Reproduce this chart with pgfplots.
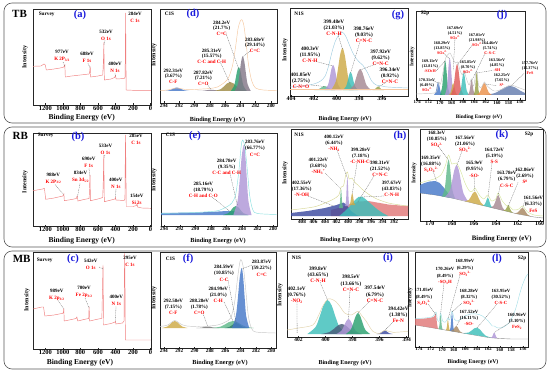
\documentclass[border=0pt]{standalone}
\usepackage{fontspec}
\setmainfont{Liberation Serif}
\usepackage{pgfplots}
\pgfplotsset{compat=1.18}

\definecolor{svy}{RGB}{240,128,128}
\definecolor{peach}{RGB}{245,200,160}
\definecolor{cBlue}{RGB}{70,120,200}
\definecolor{cOlive}{RGB}{160,140,70}
\definecolor{cGreen}{RGB}{40,160,110}
\definecolor{cDGreen}{RGB}{47,127,106}
\definecolor{cGray}{RGB}{130,118,135}
\definecolor{cPurple}{RGB}{175,150,215}
\definecolor{cGold}{RGB}{205,170,70}
\definecolor{cTeal}{RGB}{60,190,185}
\definecolor{cMauve}{RGB}{165,135,145}
\definecolor{cRed}{RGB}{225,90,90}
\definecolor{cSalmon}{RGB}{224,120,120}
\definecolor{cOrange}{RGB}{235,145,75}
\definecolor{cSlate}{RGB}{100,125,175}
\definecolor{cNavy}{RGB}{60,75,160}
\definecolor{cDSlate}{RGB}{74,90,120}
\definecolor{cLGreen}{RGB}{95,184,138}
\definecolor{cBrown}{RGB}{168,136,96}
\definecolor{cYOl}{RGB}{150,160,70}
\definecolor{lred}{RGB}{255,0,0}
\definecolor{pblue}{RGB}{25,25,220}
\definecolor{envBlue}{RGB}{160,205,225}
\definecolor{envCyan}{RGB}{140,225,225}
\definecolor{envGray}{RGB}{200,200,200}
\definecolor{envKhaki}{RGB}{215,215,150}
\definecolor{envYel}{RGB}{215,230,160}
\definecolor{envBeige}{RGB}{225,210,170}
\definecolor{envLCyan}{RGB}{168,224,232}

\pgfplotsset{
  xps/.style={scale only axis, anchor=south west, x dir=reverse, ymin=0, ytick=\empty,
    axis line style={line width=1pt, black!85}, tick align=inside, xtick pos=left,
    major tick length=3pt, every tick/.style={black!85, line width=0.7pt},
    /pgf/number format/assume math mode=true, /pgf/number format/1000 sep={},
    xticklabel style={inner sep=1.5pt}},
  tf/.style={xticklabel style={font=\bfseries\fontsize{#1}{#1}\selectfont}},
  comp/.style={draw=none, fill=#1, fill opacity=0.82, smooth, tension=0.55},
  poly/.style={draw=none, fill=#1, fill opacity=0.82},
  env/.style={draw=#1, line width=0.9pt, smooth, tension=0.5},
  svl/.style={draw=svy, line width=0.9pt},
}
\tikzset{
  lead/.style={dashed, dash pattern=on 2pt off 1.5pt, black!60, line width=0.6pt},
  annA/.style={align=center, inner sep=0pt, font=\bfseries\fontsize{10}{14}\selectfont},
  annD/.style={align=center, inner sep=0pt, font=\bfseries\fontsize{10}{11}\selectfont},
  annE/.style={align=center, inner sep=0pt, font=\bfseries\fontsize{10}{12.5}\selectfont},
  annG/.style={align=center, inner sep=0pt, font=\bfseries\fontsize{10.5}{12.5}\selectfont},
  annJ/.style={align=center, inner sep=0pt, font=\bfseries\fontsize{8.3}{10}\selectfont},
  annL/.style={align=center, inner sep=0pt, font=\bfseries\fontsize{9.5}{12.5}\selectfont},
  pl/.style={font=\bfseries\fontsize{21}{21}\selectfont, text=pblue},
  tg/.style={font=\bfseries\fontsize{10.5}{10.5}\selectfont},
  rl/.style={font=\bfseries\fontsize{22}{22}\selectfont},
}
\newcommand{\tri}[5]{\node[#1] at (#2) {#3\\(#4)\\\textcolor{lred}{#5}};}
\newcommand{\duo}[4]{\node[#1] at (#2) {#3\\\textcolor{lred}{#4}};}
\newcommand{\inty}[3]{\node[rotate=90, font=\bfseries\fontsize{#3}{#3}\selectfont] at (#1,#2) {Intensity};}
\newcommand{\bex}[3]{\node[font=\bfseries\fontsize{#3}{#3}\selectfont] at (#1,#2) {Binding Energy (eV)};}

\begin{document}
\begin{tikzpicture}
\path[use as bounding box] (0pt,0pt) rectangle (1100pt,-746pt);
\draw[rounded corners=16pt, line width=1.2pt, black!65] (8pt,-6pt) rectangle (1092pt,-246pt);
\draw[rounded corners=16pt, line width=1.2pt, black!65] (8pt,-254pt) rectangle (1092pt,-494pt);
\draw[rounded corners=16pt, line width=1.2pt, black!65] (8pt,-502pt) rectangle (1092pt,-738pt);

%================ (a) survey TB
\begin{axis}[xps, at={(66pt,-210pt)}, width=236pt, height=192pt, xmin=-5, xmax=1340, ymax=96, xtick={0,200,...,1200}, tf=13]
\addplot[svl] coordinates {(1340,38.7)(1250,39)(1215,41)(1200,40)(1188,35)(1100,36)(1000,37.5)(985,38.5)(977,40)(972,28)(900,29)(750,30.5)(700,31)(694,33)(688,38.7)(683,28)(600,29)(545,30)(537,45)(532,62.7)(527,25)(450,26)(410,27.5)(400,29.3)(392,26)(300,26.5)(290,28)(287,60)(284,92)(281,50)(278,15)(200,14.7)(-5,14.7)};
\coordinate (aO) at (axis cs:532,60);
\coordinate (aK) at (axis cs:977,39);
\coordinate (aF) at (axis cs:688,37);
\coordinate (aN) at (axis cs:400,29);
\coordinate (aC) at (axis cs:284,90);
\end{axis}

%================ (d) C1s TB
\begin{axis}[xps, at={(320pt,-206pt)}, width=234pt, height=188pt, xmin=279.2, xmax=294.5, ymax=94, xtick={280,282,...,294}, tf=10.5]
\addplot[comp=cBlue] coordinates {(293.96,12)(293.30,12.7)(292.97,13.7)(292.64,14.9)(292.31,15.5)(291.98,14.9)(291.65,13.7)(291.32,12.7)(290.66,12)};
\addplot[comp=cGray] coordinates {(289.62,12)(288.90,12.24)(288.54,12.6)(288.18,13.0)(287.82,13.2)(287.46,13.0)(287.10,12.6)(286.74,12.24)(286.02,12)};
\addplot[comp=cOlive] coordinates {(287.41,12)(286.57,13.8)(286.15,16.4)(285.73,19.6)(285.31,21)(284.89,19.6)(284.47,16.4)(284.05,13.8)(283.21,12)};
\addplot[comp=cGreen] coordinates {(285.25,12)(284.83,16.8)(284.62,23.8)(284.41,32.2)(284.2,36)(283.99,32.2)(283.78,23.8)(283.57,16.8)(283.15,12)};
\addplot[comp=cGray] coordinates {(284.73,12)(284.31,19)(284.10,29.2)(283.89,41.4)(283.68,47)(283.47,41.4)(283.26,29.2)(283.05,19)(282.63,12)};
\addplot[env=peach] coordinates {(294.5,12.5)(293.5,13)(292.3,15)(291.2,13.5)(290,13.5)(289,14)(288,14.5)(287,16)(286,21)(285.5,26)(285,38)(284.6,57)(284.3,74)(284.0,82)(283.75,83)(283.5,76)(283.2,57)(282.9,37)(282.5,22)(282,15)(281,13)(279.2,12.5)};
\coordinate (dCC) at (axis cs:285.31,19);
\coordinate (dCC2) at (axis cs:284.2,34);
\coordinate (dCC3) at (axis cs:283.68,46);
\coordinate (dCO) at (axis cs:287.82,13.2);
\end{axis}

%================ (g) N1s TB
\begin{axis}[xps, at={(580pt,-192pt)}, width=236pt, height=176pt, xmin=393.7, xmax=404.1, ymax=88, xtick={396,398,...,404}, tf=12]
\addplot[comp=cLGreen] coordinates {(401.95,6)(401.59,6.8)(401.41,7.96)(401.23,9.36)(401.05,10)(400.87,9.36)(400.69,7.96)(400.51,6.8)(400.15,6)};
\addplot[comp=cPurple] coordinates {(401.05,6)(400.75,11)(400.6,18.25)(400.45,27)(400.3,31)(400.15,27)(400.0,18.25)(399.85,11)(399.55,6)};
\addplot[comp=cGold] coordinates {(400.47,6)(400.07,14.4)(399.88,26.6)(399.68,41.3)(399.48,48)(399.28,41.3)(399.08,26.6)(398.89,14.4)(398.49,6)};
\addplot[comp=cTeal] coordinates {(399.42,6)(399.16,9.6)(399.02,14.8)(398.89,21.1)(398.76,24)(398.63,21.1)(398.50,14.8)(398.36,9.6)(398.10,6)};
\addplot[comp=cMauve] coordinates {(398.91,6)(398.51,10.2)(398.32,16.3)(398.12,23.6)(397.92,27)(397.72,23.6)(397.52,16.3)(397.33,10.2)(396.93,6)};
\addplot[comp=cYOl] coordinates {(396.85,6)(396.65,6.7)(396.54,7.7)(396.44,8.9)(396.34,9.5)(396.24,8.9)(396.14,7.7)(396.03,6.7)(395.83,6)};
\addplot[draw=peach, line width=0.9pt] coordinates {(404.1,6.5)(393.7,6.5)};
\addplot[env=envBlue] coordinates {(404.1,9)(403,10)(402,12)(401.4,15)(401,20)(400.7,30)(400.4,44)(400.1,55)(399.8,61)(399.5,64)(399.2,60)(398.9,52)(398.6,44)(398.3,38)(398,34)(397.7,31)(397.3,24)(396.9,15)(396.5,11)(396,10)(395.5,9)(393.7,8)};
\coordinate (g1) at (axis cs:401.05,9.5);
\coordinate (g2) at (axis cs:400.3,30);
\coordinate (g3) at (axis cs:399.48,47);
\coordinate (g4) at (axis cs:398.76,23);
\coordinate (g5) at (axis cs:397.92,26);
\coordinate (g6) at (axis cs:396.34,9);
\end{axis}

%================ (j) S2p TB
\begin{axis}[xps, at={(832pt,-200pt)}, width=218pt, height=178pt, xmin=155.1, xmax=174.2, ymax=89, xtick={156,158,...,174}, tf=9.5]
\addplot[comp=cSlate] coordinates {(162.26,5)(160.46,6.8)(159.56,9.4)(158.66,12.6)(157.76,14)(156.86,12.6)(155.96,9.4)(155.1,6.9)(155.1,5)};
\addplot[comp=cBlue] coordinates {(171.06,5)(170.76,7.6)(170.61,11.4)(170.46,15.9)(170.31,18)(170.16,15.9)(170.01,11.4)(169.86,7.6)(169.56,5)};
\addplot[comp=cGreen] coordinates {(170.01,5)(169.65,12)(169.47,22.2)(169.29,34.4)(169.11,40)(168.93,34.4)(168.75,22.2)(168.57,12)(168.21,5)};
\addplot[comp=cPurple] coordinates {(169.13,5)(168.79,12.4)(168.63,23.1)(168.46,36.1)(168.29,42)(168.12,36.1)(167.95,23.1)(167.79,12.4)(167.45,5)};
\addplot[comp=cGold] coordinates {(168.44,5)(168.14,7.4)(167.99,10.9)(167.84,15.1)(167.69,17)(167.54,15.1)(167.39,10.9)(167.24,7.4)(166.94,5)};
\addplot[comp=cRed] coordinates {(168.15,5)(167.69,11.2)(167.47,20.2)(167.24,31)(167.01,36)(166.78,31)(166.55,20.2)(166.33,11.2)(165.87,5)};
\addplot[comp=cTeal] coordinates {(166.75,5)(166.39,9.4)(166.21,15.8)(166.03,23.5)(165.85,27)(165.67,23.5)(165.49,15.8)(165.31,9.4)(164.95,5)};
\addplot[comp=cMauve] coordinates {(165.12,5)(164.86,8)(164.72,12.35)(164.59,17.6)(164.46,20)(164.33,17.6)(164.20,12.35)(164.06,8)(163.80,5)};
\addplot[comp=cYOl] coordinates {(164.10,5)(163.88,9.6)(163.78,16.3)(163.67,24.3)(163.56,28)(163.45,24.3)(163.34,16.3)(163.24,9.6)(163.02,5)};
\addplot[comp=cOrange] coordinates {(163.60,5)(163.06,7.4)(162.79,10.9)(162.52,15.1)(162.25,17)(161.98,15.1)(161.71,10.9)(161.44,7.4)(160.90,5)};
\addplot[env=envGray] coordinates {(174.2,6)(171,7)(170.5,10)(170.2,18)(169.9,16)(169.4,30)(169.0,42)(168.5,46)(168.2,47)(167.8,42)(167.3,37)(166.9,38)(166.5,30)(166.1,25)(165.8,29)(165.4,22)(164.9,15)(164.5,21)(164.1,14)(163.6,29)(163.2,14)(162.7,13)(162.2,18)(161.7,14)(160.5,9)(159,11)(157.7,15)(156.5,13)(155.1,10)};
\coordinate (j1) at (axis cs:170.31,17);
\coordinate (j2) at (axis cs:169.11,39);
\coordinate (j3) at (axis cs:168.29,41);
\coordinate (j4) at (axis cs:167.69,30);
\coordinate (j5) at (axis cs:167.01,35);
\coordinate (j6) at (axis cs:165.85,26);
\coordinate (j7) at (axis cs:164.46,19);
\coordinate (j8) at (axis cs:163.56,27);
\coordinate (j9) at (axis cs:162.25,16);
\coordinate (j10) at (axis cs:157.76,13);
\end{axis}

%================ (b) survey RB
\begin{axis}[xps, at={(66pt,-452pt)}, width=236pt, height=186pt, xmin=-5, xmax=1340, ymax=93, xtick={0,200,...,1200}, tf=13]
\addplot[svl] coordinates {(1340,35.3)(1230,37)(1210,37.7)(1195,26.7)(1100,28)(1000,30)(992,31)(988,32)(983,25.3)(900,26.5)(845,27.5)(838,30)(834,30)(828,25)(760,26.5)(700,27.5)(695,40)(690,51)(685,25.3)(600,27)(545,28.5)(539,45)(533,71)(527,24.3)(450,26)(405,27)(400,28.5)(395,26)(300,25.5)(292,27)(289,60)(285,91)(281,55)(277,19.5)(200,19.5)(160,20.5)(154,22.7)(148,19)(100,18)(-5,17.7)};
\coordinate (bO) at (axis cs:533,68);
\coordinate (bF) at (axis cs:690,49);
\coordinate (bK) at (axis cs:988,31);
\coordinate (bS) at (axis cs:834,29);
\coordinate (bN) at (axis cs:400,28);
\end{axis}

%================ (e) C1s RB
\begin{axis}[xps, at={(322pt,-452pt)}, width=232pt, height=186pt, xmin=279.5, xmax=294.4, ymax=93, xtick={280,282,...,294}, tf=10.5]
\addplot[poly=cBlue] coordinates {(294.4,11)(294.4,13)(290,13.5)(288,14)(287,14.5)(286,15)(285.2,15)(284.4,14)(283.8,12)(283.2,11)};
\addplot[comp=cGreen] coordinates {(286.43,11)(285.77,12.8)(285.44,15.4)(285.11,18.6)(284.78,20)(284.45,18.6)(284.12,15.4)(283.79,12.8)(283.13,11)};
\addplot[comp=cPurple] coordinates {(285.11,11)(284.57,25)(284.30,45.3)(284.03,69.8)(283.76,81)(283.56,69.8)(283.36,45.3)(283.17,25)(282.77,11)};
\addplot[env=envCyan] coordinates {(294.4,12.5)(292,13)(290,13.5)(288,14.5)(287,15.5)(286,19)(285.3,23)(284.8,32)(284.4,55)(284.1,80)(283.9,86)(283.6,78)(283.3,55)(283.0,30)(282.6,16)(282,12.5)(279.5,11.5)};
\coordinate (e1) at (axis cs:283.76,80);
\coordinate (e2) at (axis cs:284.6,21);
\coordinate (e3) at (axis cs:285.6,15);
\end{axis}

%================ (h) N1s RB
\begin{axis}[xps, at={(582pt,-438pt)}, width=234pt, height=180pt, xmin=389.6, xmax=409.9, ymax=90, xtick={392,394,...,408}, tf=10.5]
\addplot[poly=cSalmon] coordinates {(403,3)(403,9)(401,12)(399.5,15)(398,17.5)(396.5,18)(395,16.5)(393,14.5)(391,13.5)(389.6,13)(389.6,3)};
\addplot[poly=cNavy] coordinates {(409.9,3)(409.9,6)(407,8)(404,11)(402,14)(400.8,16.5)(400.2,14)(399.5,8)(398.5,4)(398,3)};
\addplot[poly=cTeal] coordinates {(401.5,3)(400.5,8)(399.5,14)(398.8,19)(398.2,22)(397.6,22.5)(397,20)(396,15)(395,10)(394,6)(393,3)};
\addplot[comp=cLGreen] coordinates {(401.58,11)(401.44,14.8)(401.36,20.3)(401.29,27)(401.22,30)(401.15,27)(401.08,20.3)(401.00,14.8)(400.86,11)};
\addplot[comp=cPurple] coordinates {(400.51,13)(400.35,18.8)(400.28,27.2)(400.20,37.4)(400.12,42)(400.04,37.4)(399.96,27.2)(399.89,18.8)(399.73,13)};
\addplot[comp=cGold] coordinates {(399.82,14)(399.60,16.4)(399.50,19.9)(399.39,24.1)(399.28,26)(399.17,24.1)(399.06,19.9)(398.96,16.4)(398.74,14)};
\addplot[env=envKhaki] coordinates {(409.9,9)(406,12)(404,16)(402.5,20)(401.6,24)(401.2,32)(400.8,33)(400.4,44)(400.1,47)(399.8,40)(399.3,41)(398.9,37)(398.3,34)(397.6,30)(396.5,25)(395,20)(393,16)(391,14)(389.6,13)};
\coordinate (h1) at (axis cs:400.12,41);
\coordinate (h2) at (axis cs:399.28,25);
\coordinate (h3) at (axis cs:401.22,30);
\coordinate (h4) at (axis cs:398.3,17);
\coordinate (h5) at (axis cs:402.5,13);
\coordinate (h6) at (axis cs:397.6,22);
\end{axis}

%================ (k) S2p RB
\begin{axis}[xps, at={(840pt,-442pt)}, width=246pt, height=184pt, xmin=159.7, xmax=170.9, ymax=92, xtick={160,162,...,170}, tf=12]
\addplot[draw=black!45, line width=0.8pt] coordinates {(170.9,28)(169.5,26)(168,23)(166.5,19)(165,15)(163.5,11)(162,7)(160.5,4)(159.7,3)};
\addplot[poly=cBlue] coordinates {(170.9,28)(170.9,36)(170.5,38)(170.0,39.5)(169.5,40)(169.1,38)(168.7,33)(168.3,27)(168.0,23)(169.5,26)};
\addplot[comp=cLGreen] coordinates {(168.90,24.6)(168.66,31.8)(168.54,42.6)(168.42,55.7)(168.30,61.6)(168.18,55.3)(168.06,41.7)(167.94,30.5)(167.70,22.3)};
\addplot[comp=cPurple] coordinates {(168.61,24.2)(168.19,30.2)(167.98,39.7)(167.77,51.1)(167.56,56.1)(167.35,50.2)(167.14,37.8)(166.93,27.4)(166.51,19.5)};
\addplot[comp=cGold] coordinates {(166.80,19.8)(166.44,21.2)(166.26,24.3)(166.08,28)(165.90,29.4)(165.72,27)(165.54,22.3)(165.36,18.4)(165.00,15)};
\addplot[comp=cTeal] coordinates {(165.17,15.5)(164.99,16.8)(164.90,19.1)(164.81,22.1)(164.72,23.3)(164.63,21.6)(164.54,18.2)(164.45,15.3)(164.27,13)};
\addplot[comp=cMauve] coordinates {(164.44,13.5)(164.18,15.6)(164.04,19.3)(163.91,23.9)(163.78,25.7)(163.65,23.2)(163.52,18)(163.38,13.4)(163.12,10)};
\addplot[comp=cYOl] coordinates {(163.31,10.5)(163.13,11.2)(163.04,12.7)(162.95,14.5)(162.86,15.3)(162.77,14.1)(162.68,11.7)(162.59,9.8)(162.41,8.1)};
\addplot[comp=cBrown] coordinates {(162.31,7.8)(162.01,8.4)(161.86,10.1)(161.71,12.3)(161.56,13.1)(161.41,11.7)(161.26,8.9)(161.11,6.6)(160.81,4.6)};
\addplot[env=envYel] coordinates {(170.9,38)(170.3,40)(169.6,42)(169.0,46)(168.6,55)(168.3,66)(168.0,57)(167.6,58)(167.2,50)(166.8,38)(166.4,30)(166.1,30)(165.9,33)(165.5,26)(165.1,22)(164.72,26)(164.4,20)(164.0,22)(163.78,28)(163.4,20)(163.0,15)(162.86,16)(162.4,11)(161.9,12)(161.56,15)(161.1,9)(160.5,6)(159.7,5)};
\coordinate (k1) at (axis cs:168.3,61);
\coordinate (k2) at (axis cs:167.56,55);
\coordinate (k3) at (axis cs:169.4,40);
\coordinate (k4) at (axis cs:165.9,29);
\coordinate (k5) at (axis cs:164.72,23);
\coordinate (k6) at (axis cs:163.78,25);
\coordinate (k7) at (axis cs:162.86,15);
\coordinate (k8) at (axis cs:161.56,13);
\end{axis}

%================ (c) survey MB
\begin{axis}[xps, at={(66pt,-698pt)}, width=236pt, height=194pt, xmin=-5, xmax=1340, ymax=97, xtick={0,200,...,1200}, tf=13]
\addplot[svl] coordinates {(1340,40)(1240,42)(1220,42)(1205,33)(1100,34)(1000,35.7)(993,37)(989,40.7)(984,28)(900,29.5)(850,30.5)(840,32)(830,28)(760,29.5)(705,30.5)(704,35)(700,42.3)(695,28)(620,29.5)(555,30.7)(548,60)(542,84)(536,24)(450,25.5)(405,27)(400,27.7)(395,25)(320,26)(302,28)(299,70)(295,95.7)(291,60)(287,9)(200,9)(-5,9)};
\coordinate (cO) at (axis cs:542,80);
\coordinate (cK) at (axis cs:989,40);
\coordinate (cF) at (axis cs:700,41);
\coordinate (cN) at (axis cs:400,27.7);
\coordinate (cC) at (axis cs:295,94);
\end{axis}

%================ (f) C1s MB
\begin{axis}[xps, at={(320pt,-696pt)}, width=232pt, height=192pt, xmin=279.4, xmax=294.5, ymax=96, xtick={280,282,...,294}, tf=10.5]
\addplot[comp=cGold] coordinates {(294.23,20)(293.57,21.4)(293.24,23.4)(292.91,25.9)(292.58,27)(292.25,25.9)(291.92,23.4)(291.59,21.4)(290.93,20)};
\addplot[comp=black!55] coordinates {(289.78,20)(289.18,20.3)(288.88,20.7)(288.58,21.3)(288.28,21.5)(287.98,21.3)(287.68,20.7)(287.38,20.3)(286.78,20)};
\addplot[comp=cLGreen] coordinates {(287.69,20)(286.61,21.4)(286.07,23.4)(285.53,25.9)(284.99,27)(284.45,25.9)(283.91,23.4)(283.37,21.4)(282.29,20)};
\addplot[comp=cDGreen] coordinates {(286.09,20)(285.49,21)(285.19,22.45)(284.89,24.2)(284.59,25)(284.29,24.2)(283.99,22.45)(283.69,21)(283.09,20)};
\addplot[comp=cBlue] coordinates {(285.13,20)(284.63,32)(284.37,49.4)(284.12,70.4)(283.87,80)(283.67,70.4)(283.47,49.4)(283.28,32)(282.88,20)};
\addplot[env=envGray] coordinates {(294.5,21.5)(293.5,23)(292.6,27.5)(291.8,24)(291,22)(289,21.5)(287,23)(286,26)(285.3,30)(284.8,45)(284.4,70)(284.1,86)(283.9,88)(283.6,78)(283.3,55)(283.0,32)(282.6,20)(282,16)(279.4,15)};
\coordinate (f1) at (axis cs:283.87,79);
\coordinate (f2) at (axis cs:284.59,25);
\coordinate (f3) at (axis cs:284.99,27);
\coordinate (f4) at (axis cs:292.58,27);
\coordinate (f5) at (axis cs:288.28,21.5);
\end{axis}

%================ (i) N1s MB
\begin{axis}[xps, at={(574pt,-674pt)}, width=242pt, height=170pt, xmin=393.9, xmax=402.85, ymax=85, xtick={394,396,...,402}, tf=11]
\addplot[comp=cTeal] coordinates {(401.35,3)(400.75,9.8)(400.45,19.7)(400.15,31.6)(399.85,37)(399.55,31.6)(399.25,19.7)(398.95,9.8)(398.35,3)};
\addplot[comp=cDSlate] coordinates {(400.3,3)(399.7,5)(399.4,7.9)(399.1,11.4)(398.8,13)(398.5,11.4)(398.2,7.9)(397.9,5)(397.3,3)};
\addplot[comp=cPurple] coordinates {(399.2,3)(398.84,6)(398.66,10.35)(398.48,15.6)(398.3,18)(398.12,15.6)(397.94,10.35)(397.76,6)(397.4,3)};
\addplot[comp=cGreen] coordinates {(398.5,3)(398.14,7.2)(397.96,13.3)(397.78,20.6)(397.6,24)(397.42,20.6)(397.24,13.3)(397.06,7.2)(396.7,3)};
\addplot[comp=cNavy] coordinates {(396.23,3)(395.99,3.7)(395.87,4.7)(395.75,5.9)(395.63,6.5)(395.51,5.9)(395.39,4.7)(395.27,3.7)(395.03,3)};
\addplot[env=envBeige] coordinates {(402.85,7)(402,9)(400.94,12)(400.5,22)(400.2,31)(399.83,38)(399.5,37.5)(399.21,35)(398.9,30)(398.59,24)(398.1,22)(397.6,25.7)(397.3,21)(396.99,15.7)(396.5,5.7)(396.0,3.5)(395.63,6.7)(395.0,4.7)(393.9,5.7)};
\coordinate (i1) at (axis cs:399.85,37);
\coordinate (i2) at (axis cs:398.3,18);
\coordinate (i3) at (axis cs:397.6,24);
\coordinate (i4) at (axis cs:402.1,4);
\coordinate (i5) at (axis cs:395.63,6.5);
\end{axis}

%================ (l) S2p MB
\begin{axis}[xps, at={(830pt,-694pt)}, width=226pt, height=190pt, xmin=155.1, xmax=174.7, ymax=95, xtick={156,158,...,174}, tf=9.5]
\addplot[draw=black!45, line width=0.8pt] coordinates {(174.7,22)(172,19.5)(170,17.5)(168,15.5)(166,13.5)(164,11.5)(162,9.5)(160,8.5)(158,8)(155.1,8)};
\addplot[poly=cSalmon] coordinates {(174.7,22)(174.7,28)(173.5,28.3)(172.2,29)(171.5,30)(171.2,32)(171.05,34)(170.9,24)(170.75,19)(170.75,18.2)(172,19.5)};
\addplot[comp=cLGreen] coordinates {(170.62,18.1)(170.48,21)(170.40,25.3)(170.33,30.5)(170.26,32.8)(170.19,30.3)(170.12,24.9)(170.04,20.5)(169.90,17.4)};
\addplot[comp=cGold] coordinates {(169.35,16.9)(169.21,18.9)(169.13,22)(169.06,25.8)(168.99,27.5)(168.92,25.6)(168.85,21.8)(168.77,18.5)(168.63,16.1)};
\addplot[comp=cBlue] coordinates {(168.70,16.2)(168.53,19.8)(168.45,25.3)(168.36,31.9)(168.28,34.8)(168.20,31.7)(168.11,24.9)(168.03,19.3)(167.86,15.4)};
\addplot[comp=cBrown] coordinates {(168.57,16.1)(168.15,16.9)(167.94,18.3)(167.73,20.2)(167.52,21)(167.31,19.8)(167.10,17.5)(166.89,15.6)(166.47,14)};
\addplot[comp=cTeal] coordinates {(166.35,13.9)(165.39,14.5)(164.91,16.3)(164.43,18.6)(163.95,19.45)(163.47,17.7)(162.99,14.4)(162.51,11.6)(161.55,9.3)};
\addplot[comp=cPurple] coordinates {(161.56,9.2)(161.32,10.2)(161.20,11.8)(161.08,13.6)(160.96,14.5)(160.84,13.6)(160.72,11.6)(160.60,10)(160.36,8.8)};
\addplot[env=envLCyan] coordinates {(174.7,28.5)(173,29)(171.6,30.5)(171.05,35)(170.8,27)(170.5,26)(170.26,34)(169.9,26)(169.4,25)(168.99,29)(168.7,27)(168.28,36)(167.9,28)(167.52,26)(167,27)(166,31)(165,33)(164,33)(163,31)(162,26)(161.3,21)(160.96,21)(160.3,19)(159.3,20)(158.3,25)(157.5,34)(157,43)(156.5,54)(156,63)(155.5,70)(155.1,73)};
\coordinate (l1) at (axis cs:170.26,33);
\coordinate (l2) at (axis cs:168.99,27.5);
\coordinate (l3) at (axis cs:171.05,32);
\coordinate (l4) at (axis cs:168.28,35);
\coordinate (l5) at (axis cs:167.52,21);
\coordinate (l6) at (axis cs:163.95,19);
\coordinate (l7) at (axis cs:160.96,14.5);
\end{axis}

%================ annotations (pixel coordinates)
\begin{scope}[x=2pt,y=-2pt]
\node[rl] at (19.5,13.8) {TB};
\node[rl] at (20.3,136) {RB};
\node[rl] at (21.7,258.7) {MB};
\node[pl] at (80,15) {(a)};
\node[pl] at (78,137) {(b)};
\node[pl] at (73,259) {(c)};
\node[pl] at (193,14) {(d)};
\node[pl] at (195,136) {(e)};
\node[pl] at (188,259) {(f)};
\node[pl] at (398,15) {(g)};
\node[pl] at (400,136) {(h)};
\node[pl] at (388,258) {(i)};
\node[pl] at (502,15) {(j)};
\node[pl] at (502,135) {(k)};
\node[pl] at (497,259) {(l)};
\node[tg, anchor=west] at (37,14.3) {Survey};
\node[tg, anchor=west] at (36,135) {Survey};
\node[tg, anchor=west] at (35,260) {Survey};
\node[tg, anchor=west] at (163,14) {C1S};
\node[tg, anchor=west] at (164,135) {C1S};
\node[tg, anchor=west] at (164,258.3) {C1S};
\node[tg, anchor=west] at (292.7,14) {N1S};
\node[tg, anchor=west] at (292.7,135) {N1S};
\node[tg, anchor=west] at (290,257.7) {N1S};
\node[tg, anchor=west] at (419,13.3) {S2p};
\node[tg] at (529,134) {S2p};
\node[tg] at (522,258) {S2p};
% Intensity labels
\inty{25}{57}{12} \inty{25}{181.7}{12} \inty{27}{300}{12}
\inty{154}{55}{12} \inty{154}{180}{12} \inty{154}{298}{12}
\inty{285}{50}{12} \inty{285}{173}{12} \inty{280}{295}{12}
\inty{412}{57}{10.5} \inty{414}{173}{11} \inty{410}{298}{10.5}
% x labels
\bex{81.7}{118}{15} \bex{81.7}{240.7}{15} \bex{80}{362.3}{15}
\bex{217.5}{120}{12.5} \bex{218}{240.7}{12.5} \bex{220}{363.3}{12.5}
\bex{345}{119}{12} \bex{346.7}{240}{12} \bex{345}{363.3}{12}
\bex{479}{117.3}{10.5} \bex{501.7}{239.3}{13.5} \bex{473}{361.7}{11.5}

% (a)
\duo{annA}{135,17.3}{284eV}{C 1s}
\duo{annA}{106,35.5}{532eV}{O 1s}
\duo{annA}{62,55.5}{977eV}{K 2P\textsubscript{3/2}}
\duo{annA}{87,57}{688eV}{F 1s}
\duo{annA}{115,67}{400eV}{N 1s}
\draw[lead] (105,40.5)--(aO); \draw[lead] (63,62)--(aK); \draw[lead] (88,63.5)--(aF); \draw[lead] (115,73.5)--(aN);
% (b)
\duo{annA}{136,139.7}{285eV}{C 1s}
\duo{annA}{105.5,149.7}{533eV}{O 1s}
\duo{annA}{88.8,162.7}{690eV}{F 1s}
\duo{annA}{53.3,178.3}{988eV}{K 2P\textsubscript{3/2}}
\duo{annA}{80.5,177}{834eV}{Sn 3d\textsubscript{5/2}}
\duo{annA}{115.8,183.3}{400eV}{N 1s}
\duo{annA}{136.7,199}{154eV}{Si 2s}
\draw[lead] (105,155)--(bO); \draw[lead] (89,168.5)--(bF); \draw[lead] (55,184.5)--(bK); \draw[lead] (80,183.5)--(bS); \draw[lead] (116,189)--(bN);
% (c)
\duo{annA}{130,261.3}{295eV}{C 1s}
\duo{annA}{90.7,264.7}{542eV}{O 1s}
\duo{annA}{56.7,294.7}{989eV}{K 2p\textsubscript{3/2}}
\duo{annA}{84,292}{700eV}{Fe 2p\textsubscript{3/2}}
\duo{annA}{116.3,300.3}{400eV}{N 1s}
\draw[lead] (99,267)--(cO); \draw[lead] (58,300.5)--(cK); \draw[lead] (85,298)--(cF); \draw[lead] (116,306.5)--(cN);
% (d)
\tri{annD}{173.3,76}{292.31eV}{3.67\%}{C-F}
\tri{annD}{203.3,78.3}{287.82eV}{7.21\%}{C=O}
\tri{annD}{211.7,56}{285.31eV}{15.57\%}{C-C and C-H}
\tri{annD}{221.7,28.3}{284.2eV}{21.7\%}{C=C}
\tri{annD}{255,45}{283.68eV}{29.14\%}{C=C}
\draw[lead] (220,61.5)--(dCC); \draw[lead] (226,33.5)--(dCC2); \draw[lead] (250,51)--(dCC3); \draw[lead] (207,84)--(dCO);
% (e)
\tri{annE}{255,148.3}{283.76eV}{66.77\%}{C=C}
\tri{annE}{226.7,166.7}{284.78eV}{9.35\%}{C-C and C-H}
\tri{annE}{203.3,190}{285.16eV}{18.79\%}{C-H and C-O}
\draw[lead] (247,142)--(e1); \draw[lead] (230,173.5)--(e2); \draw[lead] (212,197)--(e3);
% (f)
\tri{annE}{261.7,268.3}{283.87eV}{59.22\%}{C=C}
\tri{annE}{224,273.3}{284.59eV}{10.85\%}{C-C}
\tri{annE}{218.3,295}{284.99eV}{21.0\%}{C-H}
\tri{annE}{173.3,306.7}{292.58eV}{7.15\%}{C-F}
\tri{annE}{199.3,306.7}{288.28eV}{1.78\%}{C=O}
\draw[lead] (252,265)--(f1); \draw[lead] (228,280)--(f2); \draw[lead] (224,302)--(f3); \draw[lead] (203,313.5)--(f5);
% (g)
\tri{annG}{334,27.7}{399.48eV}{21.03\%}{C-N-H}
\tri{annG}{364,35}{398.76eV}{9.03\%}{C=N-C}
\tri{annG}{310,55}{400.3eV}{11.95\%}{C-N-H}
\tri{annG}{380.7,57.7}{397.92eV}{9.62\%}{C=N-C}
\tri{annG}{301,81}{401.05eV}{2.75\%}{C-N=O}
\tri{annG}{390,76}{396.34eV}{0.92\%}{C=N-C}
\draw[lead] (338,34.5)--(g3); \draw[lead] (360,41.5)--(g4); \draw[lead] (316,61.5)--(g2); \draw[lead] (376,64)--(g5); \draw[lead] (311,85)--(g1); \draw[lead] (386,82.5)--(g6);
% (h)
\tri{annE}{334,143.3}{400.12eV}{6.44\%}{-NH\textsubscript{2}}
\tri{annE}{360.7,156}{399.28eV}{7.18\%}{-C-NH-C-}
\tri{annE}{318.3,166}{401.22eV}{3.68\%}{-NH\textsubscript{3}\textsuperscript{+}}
\tri{annE}{380,169}{398.31eV}{21.52\%}{C=N-C}
\tri{annE}{301.7,189}{402.55eV}{17.36\%}{-N-OH}
\tri{annE}{391.7,189}{397.67eV}{43.83\%}{C-N-H}
\draw[lead] (337,150)--(h1); \draw[lead] (357,163)--(h2); \draw[lead] (325,173)--(h3); \draw[lead] (374,176)--(h4); \draw[lead] (308,196)--(h5); \draw[lead] (384,196)--(h6);
% (i)
\tri{annG}{318,275}{399.8eV}{43.65\%}{C-N-H}
\tri{annG}{351,283.3}{398.5eV}{13.66\%}{C=N-C}
\tri{annG}{375,294.3}{397.54eV}{6.79\%}{C=N-C}
\tri{annG}{296.7,295}{402.1eV}{0.76\%}{-NO\textsubscript{2}}
\tri{annG}{398.3,315}{394.42eV}{1.38\%}{Fe-N}
\draw[lead] (320,282)--(i1); \draw[lead] (350,290)--(i2); \draw[lead] (370,301)--(i3); \draw[lead] (297,302)--(i4); \draw[lead] (393,322)--(i5);
% (j)
\tri{annJ}{455,33}{167.69eV}{4.51\%}{SO\textsubscript{4}\textsuperscript{2-}}
\tri{annJ}{477,40}{167.01eV}{21.98\%}{SO\textsubscript{3}\textsuperscript{2-}}
\tri{annJ}{442,48}{168.29eV}{13.85\%}{SO\textsubscript{4}\textsuperscript{2-}}
\tri{annJ}{430,66}{169.11eV}{12.81\%}{-SO\textsubscript{3}H}
\tri{annJ}{427,85}{170.31eV}{6.49\%}{SO\textsubscript{4}\textsuperscript{2-}}
\tri{annJ}{468,67}{165.85eV}{8.70\%}{SO\textsubscript{3}\textsuperscript{2-}}
\tri{annJ}{490,48}{164.46eV}{5.74\%}{C-S-C}
\tri{annJ}{497,65.5}{163.56eV}{4.85\%}{-SH}
\tri{annJ}{502,80.5}{162.25eV}{7.65\%}{S\textsuperscript{2-}}
\tri{annJ}{530,68}{157.76eV}{15.37\%}{FeS}
\draw[lead] (432,80)--(j1); \draw[lead] (436,71)--(j2); \draw[lead] (444,53.5)--(j3); \draw[lead] (455,38.5)--(j4); \draw[lead] (472,45.5)--(j5); \draw[lead] (466,72.5)--(j6); \draw[lead] (485,53.5)--(j7); \draw[lead] (492,70.5)--(j8); \draw[lead] (496,85.5)--(j9); \draw[lead] (524,73.5)--(j10);
% (k)
\tri{annE}{436.7,139.3}{168.3eV}{10.85\%}{SO\textsubscript{4}\textsuperscript{2-}}
\tri{annE}{465,144.3}{167.56eV}{21.06\%}{SO\textsubscript{3}\textsuperscript{2-}}
\tri{annE}{431,164.3}{169.35eV}{16.88\%}{S\textsubscript{2}O\textsubscript{3}\textsuperscript{2-}}
\tri{annE}{474.3,169.3}{165.9eV}{9.95\%}{-SO-}
\tri{annE}{494.3,156}{164.72eV}{5.19\%}{S-S}
\tri{annE}{506.7,179.3}{163.78eV}{6.79\%}{C-S-C}
\tri{annE}{525,176}{162.86eV}{2.69\%}{S\textsuperscript{0}}
\tri{annE}{533.3,204.3}{161.56eV}{6.33\%}{FeS}
\draw[lead] (438,146)--(k1); \draw[lead] (462,151)--(k2); \draw[lead] (433,171)--(k3); \draw[lead] (474,176)--(k4); \draw[lead] (492,163)--(k5); \draw[lead] (500,186)--(k6); \draw[lead] (518,182.5)--(k7); \draw[lead] (525,200)--(k8);
% (l)
\tri{annL}{445,276}{170.26eV}{8.49\%}{-SO\textsubscript{3}H}
\tri{annL}{465,268}{168.99eV}{6.29\%}{SO\textsubscript{3}\textsuperscript{2-}}
\tri{annL}{424,297}{171.05eV}{8.49\%}{S\textsubscript{2}O\textsubscript{3}\textsuperscript{2-}}
\tri{annL}{469,297}{168.28eV}{8.32\%}{SO\textsubscript{4}\textsuperscript{2-}}
\tri{annL}{469,318}{167.52eV}{16.11\%}{-SO-}
\tri{annL}{501,297}{163.95eV}{30.52\%}{C-S-C}
\tri{annL}{517,321}{160.96eV}{3.10\%}{FeS\textsubscript{2}}
\draw[lead] (444,283)--(l1); \draw[lead] (460,275)--(l2); \draw[lead] (428,304)--(l3); \draw[lead] (462,303)--(l4); \draw[lead] (461,318)--(l5); \draw[lead] (497,304)--(l6); \draw[lead] (509,323)--(l7);
\end{scope}
\end{tikzpicture}
\end{document}
